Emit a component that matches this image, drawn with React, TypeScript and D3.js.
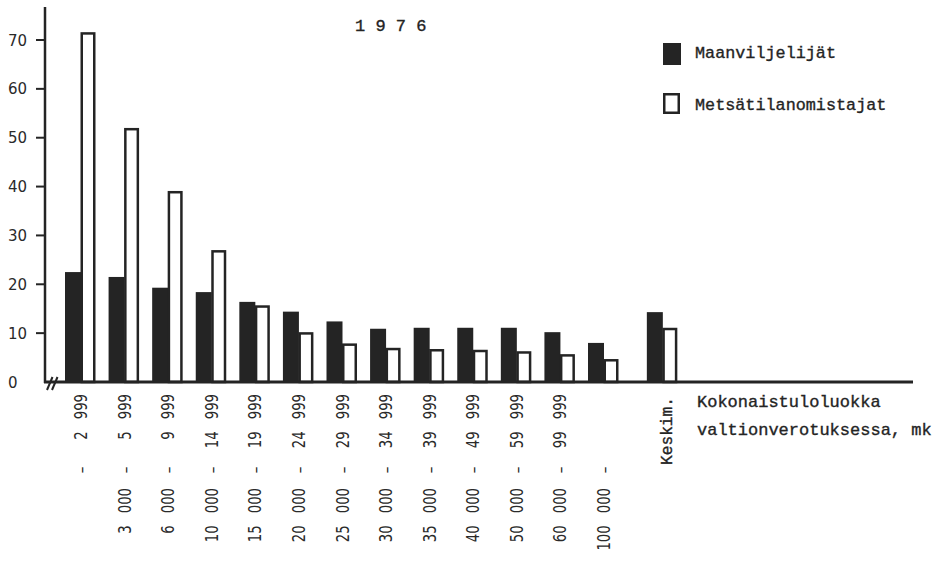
import React from "react";
import * as d3 from "d3";

const title = "1 9 7 6";
const seriesNames = ["Maanviljelijät", "Metsätilanomistajat"];
const lowerBounds = ["", "3 000", "6 000", "10 000", "15 000", "20 000", "25 000", "30 000", "35 000", "40 000", "50 000", "60 000", "100 000"];
const upperBounds = ["2 999", "5 999", "9 999", "14 999", "19 999", "24 999", "29 999", "34 999", "39 999", "49 999", "59 999", "99 999", ""];
const farmers = [22.5, 21.5, 19.3, 18.4, 16.4, 14.4, 12.4, 10.9, 11.1, 11.1, 11.1, 10.2, 8.0];
const forestOwners = [71.6, 52.0, 39.1, 27.0, 15.7, 10.2, 7.9, 7.0, 6.75, 6.6, 6.3, 5.7, 4.7];
const averageLabel = "Keskim.";
const averageFarmers = 14.3;
const averageForest = 11.1;
const yTicks = [0, 10, 20, 30, 40, 50, 60, 70];
const xTitle = ["Kokonaistuloluokka", "valtionverotuksessa, mk"];

const INK = "#242424";
const MONO = "'Liberation Mono', 'DejaVu Sans Mono', monospace";
const SANS = "'DejaVu Sans', sans-serif";

export default function App() {
  const y = d3.scaleLinear().domain([0, 70]).range([382, 40]);
  const x = d3.scaleLinear().domain([0, 12]).range([65, 588]);
  const avgIndex = 13.35;
  const darkW = 16;
  const whiteW = 15;
  const sw = 2.5;
  const base = y(0);

  const pair = (i: number, a: number, b: number, key: string) => {
    const g = x(i);
    return (
      <g key={key}>
        <rect x={g} y={y(a)} width={darkW} height={base - y(a)} fill={INK} />
        <rect
          x={g + darkW + sw / 2 - 0.5}
          y={y(b) + sw / 2}
          width={whiteW - sw}
          height={base - y(b) - sw / 2}
          fill="white"
          stroke={INK}
          strokeWidth={sw}
        />
      </g>
    );
  };

  const labelText = (s: string, px: number, py: number, anchor: string, key: string) => (
    <text
      key={key}
      transform={`translate(${px},${py}) rotate(-90) scale(0.78,1)`}
      textAnchor={anchor}
      fontFamily={SANS}
      fontSize={17}
      wordSpacing={10}
      fill="#2a2a2a"
    >
      {s}
    </text>
  );

  const typed = { fontFamily: MONO, fill: INK, stroke: INK, strokeWidth: 0.35 };

  return (
    <svg
      width={945}
      height={561}
      style={{ position: "absolute", left: 0, top: 0, background: "white" }}
    >
      {/* title */}
      <text x={355} y={31} fontSize={17} {...typed}>
        {title}
      </text>

      {/* y axis */}
      <line x1={45} x2={45} y1={7} y2={base + 1} stroke={INK} strokeWidth={2.5} />
      {yTicks.map((t) => (
        <g key={`yt${t}`}>
          {t > 0 && <line x1={36} x2={45} y1={y(t)} y2={y(t)} stroke={INK} strokeWidth={2} />}
          <text x={8} y={y(t) + 5.5} fontFamily={SANS} fontSize={15} fill="#2a2a2a">
            {t}
          </text>
        </g>
      ))}

      {/* bars */}
      {farmers.map((v, i) => pair(i, v, forestOwners[i], `p${i}`))}
      {pair(avgIndex, averageFarmers, averageForest, "avg")}

      {/* x baseline */}
      <line x1={44} x2={913} y1={base} y2={base} stroke={INK} strokeWidth={3} />
      {/* axis break */}
      <line x1={47} x2={52.5} y1={390} y2={377} stroke={INK} strokeWidth={2} />
      <line x1={52} x2={57.5} y1={390} y2={377} stroke={INK} strokeWidth={2} />

      {/* category labels */}
      {farmers.map((_, i) => {
        const cx = x(i) + darkW + 6;
        return (
          <g key={`lab${i}`}>
            {upperBounds[i] && labelText(upperBounds[i], cx, 394, "end", `u${i}`)}
            {labelText("–", cx, 470, "middle", `d${i}`)}
            {lowerBounds[i] && labelText(lowerBounds[i], cx, 488, "end", `l${i}`)}
          </g>
        );
      })}
      <text
        transform={`translate(672,397) rotate(-90)`}
        textAnchor="end"
        fontSize={16.2}
        {...typed}
      >
        {averageLabel}
      </text>

      {/* x axis title */}
      {xTitle.map((s, i) => (
        <text key={`xt${i}`} x={697} y={407 + i * 27.5} fontSize={17} {...typed}>
          {s}
        </text>
      ))}

      {/* legend */}
      <rect x={663} y={43} width={18} height={22} fill={INK} />
      <text x={695} y={58} fontSize={16.8} {...typed}>
        {seriesNames[0]}
      </text>
      <rect x={664.25} y={94.25} width={14.5} height={18.5} fill="white" stroke={INK} strokeWidth={2.5} />
      <text x={695} y={109.5} fontSize={16.8} {...typed}>
        {seriesNames[1]}
      </text>
    </svg>
  );
}
